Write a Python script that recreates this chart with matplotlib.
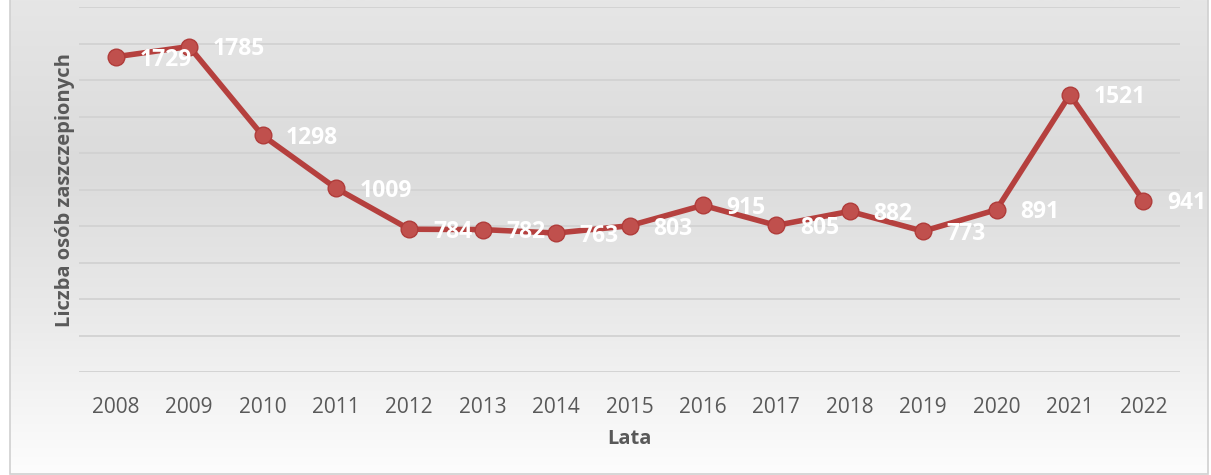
import numpy as np
import matplotlib
matplotlib.use("Agg")
import matplotlib.pyplot as plt
from matplotlib.patches import Rectangle
from matplotlib.colors import LinearSegmentedColormap

# Data
years = ["2008", "2009", "2010", "2011", "2012", "2013", "2014", "2015",
         "2016", "2017", "2018", "2019", "2020", "2021", "2022"]
vaccinated = [1729, 1785, 1298, 1009, 784, 782, 763, 803,
              915, 805, 882, 773, 891, 1521, 941]

LINE_COLOR = "#b5403e"
TEXT_GREY = "#595959"

plt.rcParams['font.family'] = ['Open Sans', 'DejaVu Sans']

fig = plt.figure(figsize=(12.11, 4.75), dpi=100)

# Background: vertical grey-to-white gradient inside a thin border
bg = fig.add_axes([0, 0, 1, 1], zorder=-10)
bg.set_xlim(0, 1211)
bg.set_ylim(475, 0)
bg.axis("off")
grad_cmap = LinearSegmentedColormap.from_list(
    "bg", [(0.0, "#e6e6e6"), (0.35, "#dbdbdb"), (0.65, "#e9e9e9"), (1.0, "#fdfdfd")])
grad = np.linspace(0, 1, 256).reshape(-1, 1)
bg.imshow(grad, cmap=grad_cmap, extent=[10, 1208, 474, 0], aspect="auto")
bg.add_patch(Rectangle((10, -2), 1198, 476, fill=False, edgecolor="#d0d0d0", lw=1.2))

ax = fig.add_axes([79 / 1211, 1 - 372.3 / 475, 1101 / 1211, 365 / 475])
ax.patch.set_alpha(0)
x = np.arange(len(years))
ax.set_xlim(-0.5, len(years) - 0.5)
ax.set_ylim(0, 2000)
ax.set_yticks(np.arange(0, 2001, 200))
ax.yaxis.grid(True, color="#d2d2d2", lw=1.3)
ax.set_axisbelow(True)
ax.tick_params(axis="y", left=False, labelleft=False)
ax.tick_params(axis="x", bottom=False, labelsize=15, labelcolor=TEXT_GREY, pad=14)
ax.set_xticks(x)
ax.set_xticklabels(years)
for s in ax.spines.values():
    s.set_visible(False)

# Line with round markers
ax.plot(x, vaccinated, color=LINE_COLOR, lw=4, marker="o", markersize=12,
        markerfacecolor="#c0504d", markeredgecolor="#b03c3a", zorder=4,
        solid_capstyle="round")

# White bold value labels to the right of each point, drawn over the line
for xi, v in zip(x, vaccinated):
    ax.annotate(str(v), (xi, v), xytext=(17, -2), textcoords="offset points",
                ha="left", va="center", color="white", fontsize=16.5,
                fontweight="bold", zorder=5)

ax.set_xlabel("Lata", fontsize=14.5, fontweight="bold", color=TEXT_GREY, labelpad=8)
ax.set_ylabel("Liczba osób zaszczepionych", fontsize=14.5, fontweight="bold",
              color=TEXT_GREY, labelpad=3)

fig.savefig("out.png", dpi=100)
